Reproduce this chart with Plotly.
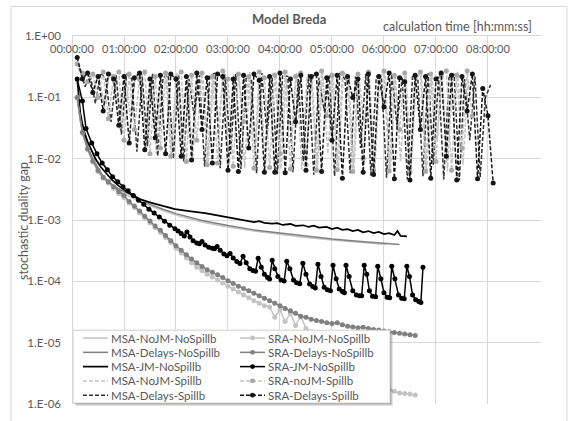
import numpy as np
import plotly.graph_objects as go

# ---------------- data: calculation time [h] vs stochastic duality gap ----------------
# MSA, no spillback
msa_nojm_nosp_t = [0.1, 0.13, 0.16, 0.2, 0.25, 0.3, 0.4, 0.5, 0.6, 0.8, 1.0, 1.25, 1.5, 1.75,
                   2.0, 2.5, 3.0, 3.5, 4.0, 4.5, 5.0, 5.5, 6.05]
msa_nojm_nosp_v = [0.1, 0.06, 0.04, 0.028, 0.02, 0.015, 0.0095, 0.0065, 0.0048, 0.0034, 0.0027,
                   0.0021, 0.0017, 0.00143, 0.0012, 0.00093, 0.00077, 0.00066, 0.00058, 0.00052,
                   0.00047, 0.00043, 0.0004]

msa_delays_nosp_t = [0.1, 0.13, 0.16, 0.2, 0.25, 0.3, 0.4, 0.5, 0.6, 0.8, 1.0, 1.25, 1.5, 1.75,
                     2.0, 2.5, 3.0, 3.5, 4.0, 4.5, 5.0, 5.5, 6.0, 6.3]
msa_delays_nosp_v = [0.1, 0.065, 0.043, 0.03, 0.021, 0.016, 0.01, 0.007, 0.0051, 0.0036, 0.0029,
                     0.0023, 0.0018, 0.0015, 0.00127, 0.00098, 0.00081, 0.00069, 0.00061, 0.00054,
                     0.00049, 0.00045, 0.00042, 0.0004]

msa_jm_nosp_t = [0.1, 0.13, 0.16, 0.2, 0.25, 0.3, 0.35, 0.45, 0.55, 0.65, 0.77, 0.9, 1.0, 1.15,
                 1.3, 1.53, 1.75, 1.98, 2.25, 2.56, 2.9, 3.23, 3.4, 3.5, 3.6, 3.7, 3.85, 3.95,
                 4.05, 4.2, 4.3, 4.45, 4.55, 4.65, 4.75, 4.9, 5.0, 5.1, 5.2, 5.3, 5.4, 5.5, 5.6,
                 5.7, 5.8, 5.9, 6.0, 6.1, 6.2, 6.26, 6.32, 6.44]
msa_jm_nosp_v = [0.2, 0.09, 0.055, 0.037, 0.025, 0.019, 0.015, 0.01, 0.0074, 0.0058, 0.0045,
                 0.0036, 0.0031, 0.0026, 0.0022, 0.0019, 0.0017, 0.0015, 0.0014, 0.0013, 0.00115,
                 0.00102, 0.00098, 0.00092, 0.00096, 0.0009, 0.00087, 0.00089, 0.00083, 0.00086,
                 0.0008, 0.00082, 0.00077, 0.00081, 0.00075, 0.00077, 0.00071, 0.00075, 0.00069,
                 0.00071, 0.00066, 0.00069, 0.00063, 0.00066, 0.00061, 0.00064, 0.00059, 0.00061,
                 0.00057, 0.00066, 0.00055, 0.00054]

# SRA, no spillback
sra_nojm_nosp_t0, sra_nojm_nosp_t1 = 0.1, 6.6
sra_nojm_nosp_v = [0.1, 0.026, 0.014, 0.0088, 0.0062, 0.0048, 0.004, 0.0033, 0.0027, 0.0023,
                   0.0019, 0.0016, 0.0013, 0.00108, 0.0009, 0.00075, 0.00063, 0.00052, 0.00043,
                   0.00035, 0.00029, 0.00024, 0.0002, 0.00017, 0.00015, 0.00013, 0.000118,
                   0.000105, 0.000094, 0.000083, 0.000075, 0.000067, 0.00006, 0.000054, 0.000048,
                   0.000044, 0.00004, 0.000038, 0.000026, 0.000034, 0.000022, 0.00003, 0.000019,
                   0.000027, 0.000017, 0.000015, 0.000012, 0.0000105, 0.0000092, 0.000008,
                   0.000007, 0.0000061, 0.0000053, 0.0000046, 0.000004, 0.0000035, 0.000003,
                   0.0000026, 0.0000022, 0.0000019, 0.0000017, 0.0000016, 0.0000015, 0.00000148,
                   0.00000145, 0.0000014]

sra_delays_nosp_t0, sra_delays_nosp_t1 = 0.1, 6.6
sra_delays_nosp_v = [0.1, 0.027, 0.0145, 0.0092, 0.0065, 0.005, 0.0042, 0.0035, 0.0029, 0.0025,
                     0.002, 0.0017, 0.0014, 0.00115, 0.00096, 0.0008, 0.00068, 0.00056, 0.00046,
                     0.00038, 0.00032, 0.00027, 0.00023, 0.0002, 0.000175, 0.000155, 0.00014,
                     0.000128, 0.000115, 0.000102, 0.000092, 0.000083, 0.000076, 0.00007,
                     0.000064, 0.000058, 0.000053, 0.000048, 0.000044, 0.00004, 0.000036,
                     0.000033, 0.00003, 0.000027, 0.000026, 0.000024, 0.000023, 0.000022,
                     0.000021, 0.0000205, 0.000021, 0.0000195, 0.0000185, 0.000018, 0.0000175,
                     0.0000178, 0.000017, 0.0000163, 0.000016, 0.0000155, 0.000015, 0.0000146,
                     0.0000142, 0.0000138, 0.0000134, 0.000013]

sra_jm_nosp_t = [0.1, 0.2, 0.27, 0.38, 0.48, 0.58, 0.68, 0.78, 0.88, 0.98, 1.08, 1.18, 1.28,
                 1.38, 1.48, 1.58, 1.68, 1.78, 1.88, 1.98, 2.04, 2.1, 2.16, 2.21, 2.27, 2.33,
                 2.4, 2.45, 2.5, 2.56, 2.63, 2.7, 2.74, 2.79, 2.85, 2.92, 2.98, 3.04, 3.1, 3.17,
                 3.23, 3.29, 3.35, 3.42, 3.48, 3.53, 3.58, 3.64, 3.7, 3.76, 3.8, 3.85, 3.9, 3.96,
                 4.02, 4.08, 4.13, 4.19, 4.26, 4.32, 4.38, 4.44, 4.5, 4.57, 4.63, 4.68, 4.73,
                 4.79, 4.85, 4.91, 4.97, 5.02, 5.08, 5.14, 5.2, 5.24, 5.27, 5.33, 5.4, 5.47,
                 5.53, 5.57, 5.62, 5.67, 5.72, 5.78, 5.84, 5.88, 5.94, 6.0, 6.06, 6.11, 6.15,
                 6.21, 6.28, 6.34, 6.39, 6.44, 6.49, 6.55, 6.61, 6.67, 6.71, 6.75]
sra_jm_nosp_v = [0.2, 0.087, 0.031, 0.018, 0.012, 0.0085, 0.0066, 0.0051, 0.0042, 0.0035, 0.003,
                 0.0025, 0.0021, 0.0018, 0.0015, 0.0013, 0.00112, 0.00095, 0.00082, 0.00072,
                 0.00066, 0.0006, 0.00055, 0.00064, 0.00053, 0.00046, 0.00042, 0.00041,
                 0.000445, 0.00039, 0.00036, 0.000345, 0.00034, 0.00037, 0.00032, 0.00028,
                 0.00026, 0.000285, 0.00024, 0.00021, 0.000195, 0.000255, 0.0002, 0.00016,
                 0.00015, 0.000146, 0.000237, 0.00017, 0.00013, 0.000115, 0.000109, 0.00022,
                 0.00016, 0.00012, 0.000105, 0.000101, 0.000212, 0.00016, 0.000105, 0.000095,
                 0.000091, 0.000197, 0.00013, 0.00009, 0.000082, 0.000078, 0.00019, 0.00012,
                 0.00008, 0.000073, 0.00007, 0.000183, 0.00011, 0.000075, 0.000068, 0.000065,
                 0.000183, 0.00012, 0.00007, 0.00006, 0.000058, 0.000058, 0.000183, 0.00013,
                 0.00007, 0.000057, 0.000056, 0.000176, 0.00011, 0.000065, 0.000055, 0.000054,
                 0.000176, 0.00011, 0.00006, 0.000053, 0.000052, 0.000176, 0.00012, 0.00006,
                 0.00005, 0.000047, 0.000045, 0.00017]

# spillback runs (evenly spaced iterations between first and last time)
msa_nojm_sp_t0, msa_nojm_sp_t1 = 0.12, 7.62
msa_nojm_sp_v = [0.3, 0.2, 0.26, 0.14, 0.24, 0.07, 0.25, 0.22, 0.03, 0.24, 0.05, 0.2, 0.25,
                 0.015, 0.22, 0.012, 0.24, 0.21, 0.01, 0.25, 0.018, 0.23, 0.0095, 0.26, 0.2,
                 0.0085, 0.22, 0.04, 0.25, 0.0078, 0.23, 0.21, 0.007, 0.26, 0.011, 0.22, 0.0072,
                 0.24, 0.25, 0.0068, 0.21, 0.025, 0.26, 0.0066, 0.22, 0.2, 0.0064, 0.25, 0.012,
                 0.23, 0.0061, 0.26, 0.22, 0.0063, 0.21, 0.035, 0.25, 0.006, 0.23, 0.24, 0.0059,
                 0.22, 0.009, 0.26, 0.0061, 0.21, 0.25, 0.0058, 0.23, 0.02, 0.24, 0.0062, 0.22,
                 0.26, 0.008, 0.2]

msa_delays_sp_t0, msa_delays_sp_t1 = 0.15, 8.05
msa_delays_sp_v = [0.3, 0.15, 0.22, 0.08, 0.25, 0.2, 0.04, 0.23, 0.025, 0.24, 0.2, 0.013, 0.22,
                   0.016, 0.25, 0.011, 0.21, 0.23, 0.01, 0.24, 0.009, 0.2, 0.05, 0.23, 0.0075,
                   0.22, 0.25, 0.007, 0.21, 0.012, 0.24, 0.0068, 0.22, 0.2, 0.0058, 0.25, 0.025,
                   0.21, 0.0056, 0.23, 0.22, 0.006, 0.2, 0.009, 0.24, 0.0055, 0.21, 0.06, 0.23,
                   0.0052, 0.25, 0.2, 0.0058, 0.22, 0.015, 0.24, 0.0053, 0.2, 0.22, 0.0049, 0.24,
                   0.035, 0.21, 0.0046, 0.23, 0.2, 0.0052, 0.25, 0.008, 0.22, 0.0046, 0.21, 0.24,
                   0.0044, 0.2, 0.02, 0.22, 0.005, 0.1, 0.16]

sra_nojm_sp_t0, sra_nojm_sp_t1 = 0.1, 7.7
sra_nojm_sp_v = [0.35, 0.25, 0.18, 0.24, 0.1, 0.26, 0.045, 0.22, 0.26, 0.02, 0.24, 0.03, 0.2,
                 0.26, 0.012, 0.22, 0.015, 0.25, 0.011, 0.21, 0.26, 0.009, 0.23, 0.02, 0.25,
                 0.008, 0.22, 0.0085, 0.27, 0.2, 0.0075, 0.24, 0.04, 0.22, 0.007, 0.26, 0.21,
                 0.0072, 0.23, 0.012, 0.26, 0.0068, 0.22, 0.25, 0.008, 0.21, 0.0065, 0.27, 0.05,
                 0.23, 0.0066, 0.25, 0.2, 0.0062, 0.24, 0.01, 0.26, 0.0064, 0.22, 0.27, 0.0063,
                 0.23, 0.03, 0.25, 0.006, 0.21, 0.26, 0.0062, 0.24, 0.009, 0.22, 0.27, 0.0065,
                 0.23, 0.015, 0.27, 0.05]

sra_delays_sp_t0, sra_delays_sp_t1 = 0.1, 8.1
sra_delays_sp_v = [0.45, 0.2, 0.25, 0.12, 0.22, 0.06, 0.24, 0.2, 0.035, 0.22, 0.018, 0.21, 0.25,
                   0.014, 0.2, 0.022, 0.23, 0.012, 0.24, 0.2, 0.011, 0.22, 0.0095, 0.25, 0.03,
                   0.21, 0.0085, 0.24, 0.22, 0.0065, 0.2, 0.0062, 0.23, 0.015, 0.24, 0.19, 0.006,
                   0.22, 0.006, 0.25, 0.0059, 0.2, 0.04, 0.23, 0.0065, 0.22, 0.24, 0.0062, 0.21,
                   0.02, 0.23, 0.0048, 0.22, 0.1, 0.2, 0.006, 0.24, 0.0055, 0.22, 0.07, 0.25,
                   0.0047, 0.21, 0.18, 0.0045, 0.23, 0.03, 0.22, 0.0048, 0.2, 0.25, 0.011, 0.23,
                   0.0045, 0.22, 0.06, 0.24, 0.0047, 0.14, 0.05, 0.004]

hour_ticks = [0, 1, 2, 3, 4, 5, 6, 7, 8]
hour_labels = ["00:00:00", "01:00:00", "02:00:00", "03:00:00", "04:00:00",
               "05:00:00", "06:00:00", "07:00:00", "08:00:00"]
gap_ticks = [1, 1e-1, 1e-2, 1e-3, 1e-4, 1e-5, 1e-6]
gap_labels = ["1.E+00", "1.E-01", "1.E-02", "1.E-03", "1.E-04", "1.E-05", "1.E-06"]


def even_times(t0, t1, vals):
    return np.linspace(t0, t1, len(vals))


LIGHT, MID, DARK = "#C3C3C3", "#808080", "#000000"
DASH = "4px,2px"
FONT = "Lato"
TXT = "#595959"

# name, x, y, color, dashed, markers, marker color, width
series = [
    ("MSA-NoJM-Spillb", even_times(msa_nojm_sp_t0, msa_nojm_sp_t1, msa_nojm_sp_v), msa_nojm_sp_v,
     LIGHT, True, False, LIGHT, 1.5),
    ("MSA-Delays-Spillb", even_times(msa_delays_sp_t0, msa_delays_sp_t1, msa_delays_sp_v),
     msa_delays_sp_v, "#303030", True, False, None, 1.5),
    ("SRA-noJM-Spillb", even_times(sra_nojm_sp_t0, sra_nojm_sp_t1, sra_nojm_sp_v), sra_nojm_sp_v,
     LIGHT, True, True, "#A8A8A8", 1.5),
    ("SRA-Delays-Spillb", even_times(sra_delays_sp_t0, sra_delays_sp_t1, sra_delays_sp_v),
     sra_delays_sp_v, "#151515", True, True, "#151515", 1.5),
    ("MSA-NoJM-NoSpillb", msa_nojm_nosp_t, msa_nojm_nosp_v, LIGHT, False, False, None, 1.5),
    ("MSA-Delays-NoSpillb", msa_delays_nosp_t, msa_delays_nosp_v, MID, False, False, None, 1.5),
    ("MSA-JM-NoSpillb", msa_jm_nosp_t, msa_jm_nosp_v, DARK, False, False, None, 1.75),
    ("SRA-NoJM-NoSpillb", even_times(sra_nojm_nosp_t0, sra_nojm_nosp_t1, sra_nojm_nosp_v),
     sra_nojm_nosp_v, LIGHT, False, True, LIGHT, 1.5),
    ("SRA-Delays-NoSpillb", even_times(sra_delays_nosp_t0, sra_delays_nosp_t1, sra_delays_nosp_v),
     sra_delays_nosp_v, MID, False, True, MID, 1.5),
    ("SRA-JM-NoSpillb", sra_jm_nosp_t, sra_jm_nosp_v, DARK, False, True, DARK, 1.5),
]

fig = go.Figure()
for name, x, y, col, dashed, mk, mcol, w in series:
    fig.add_trace(go.Scatter(
        x=list(x), y=y, name=name, showlegend=False,
        mode="lines+markers" if mk else "lines",
        line=dict(color=col, width=w, dash=DASH if dashed else "solid"),
        marker=dict(size=5, color=mcol) if mk else None,
    ))

# ---------------- layout in pixels ----------------
W, H = 571, 421
L, R, T, B = 72, 541, 36, 410


def fx(px):
    return (px - L) / (R - L)


def fy(py):
    return (B - py) / (B - T)


shapes = []
annotations = []

# outer chart frame
shapes.append(dict(type="rect", xref="paper", yref="paper", x0=fx(11), x1=fx(567), y0=fy(430),
                   y1=fy(6), line=dict(color="#D9D9D9", width=1), fillcolor="rgba(0,0,0,0)",
                   layer="below"))

# legend box with soft shadow
lx0, lx1, ly0, ly1 = 73, 390, 335, 409
for off, alpha in [(3, 0.10), (2, 0.15), (1, 0.2)]:
    shapes.append(dict(type="rect", xref="paper", yref="paper", x0=fx(lx0 + off), x1=fx(lx1 + off),
                       y0=fy(ly1 + off), y1=fy(ly0 + off), line=dict(width=0),
                       fillcolor=f"rgba(0,0,0,{alpha})", layer="above"))
shapes.append(dict(type="rect", xref="paper", yref="paper", x0=fx(lx0), x1=fx(lx1),
                   y0=fy(ly1), y1=fy(ly0), line=dict(color="#D0D0D0", width=1),
                   fillcolor="white", layer="above"))

legend_order = [
    ["MSA-NoJM-NoSpillb", "MSA-Delays-NoSpillb", "MSA-JM-NoSpillb", "MSA-NoJM-Spillb",
     "MSA-Delays-Spillb"],
    ["SRA-NoJM-NoSpillb", "SRA-Delays-NoSpillb", "SRA-JM-NoSpillb", "SRA-noJM-Spillb",
     "SRA-Delays-Spillb"],
]
style = {s[0]: s for s in series}
col_sym = [(83, 108), (240, 265)]
rows_y = [343, 357.5, 372, 386.5, 401]
for c, names in enumerate(legend_order):
    sx0, sx1 = col_sym[c]
    for r, nm in enumerate(names):
        _, _, _, col, dashed, mk, mcol, w = style[nm]
        yy = rows_y[r]
        shapes.append(dict(type="line", xref="paper", yref="paper", x0=fx(sx0), x1=fx(sx1),
                           y0=fy(yy), y1=fy(yy), layer="above",
                           line=dict(color=col, width=w, dash=DASH if dashed else "solid")))
        if mk:
            cx = (sx0 + sx1) / 2
            shapes.append(dict(type="circle", xref="paper", yref="paper", x0=fx(cx - 2.5),
                               x1=fx(cx + 2.5), y0=fy(yy + 2.5), y1=fy(yy - 2.5), layer="above",
                               fillcolor=mcol, line=dict(width=0)))
        annotations.append(dict(text=nm, xref="paper", yref="paper", x=fx(sx1 + 1), y=fy(yy),
                                xanchor="left", yanchor="middle", showarrow=False,
                                font=dict(family=FONT, size=11.5, color=TXT)))

# time labels sit just under the top axis line, inside the plotting area
for hv, lab in zip(hour_ticks, hour_labels):
    annotations.append(dict(text=lab, xref="x", yref="paper", x=hv, y=fy(49),
                            xanchor="center", yanchor="middle", showarrow=False,
                            font=dict(family=FONT, size=11, color=TXT)))

# titles
annotations.append(dict(text="<b>Model Breda</b>", xref="paper", yref="paper", x=fx(289),
                        y=fy(19), xanchor="center", yanchor="middle", showarrow=False,
                        font=dict(family=FONT, size=13, color=TXT)))
annotations.append(dict(text="calculation time [hh:mm:ss]", xref="paper", yref="paper",
                        x=fx(534), y=fy(26), xanchor="right", yanchor="middle", showarrow=False,
                        font=dict(family=FONT, size=12.5, color=TXT)))
annotations.append(dict(text="stochastic duality gap", xref="paper", yref="paper", x=fx(24),
                        y=fy(224), xanchor="center", yanchor="middle", textangle=-90,
                        showarrow=False, font=dict(family=FONT, size=12.5, color=TXT)))

fig.update_layout(
    width=W, height=H,
    margin=dict(l=L, r=W - R, t=T, b=H - B, pad=0),
    paper_bgcolor="white", plot_bgcolor="white",
    showlegend=False,
    shapes=shapes, annotations=annotations,
    xaxis=dict(range=[0, 9.02], side="top", tickvals=hour_ticks, showticklabels=False,
               ticks="", showgrid=True, gridcolor="#D9D9D9",
               gridwidth=1, zeroline=True, zerolinecolor="#D9D9D9", zerolinewidth=1,
               showline=True, linecolor="#D9D9D9", linewidth=1),
    yaxis=dict(type="log", range=[-6.002, 0.002], tickvals=gap_ticks, ticktext=gap_labels,
               ticks="", showgrid=True, gridcolor="#D9D9D9", gridwidth=1, zeroline=False,
               showline=False, ticklabelstandoff=10,
               tickfont=dict(family=FONT, size=11.5, color=TXT)),
)

fig.write_html("out.html")
